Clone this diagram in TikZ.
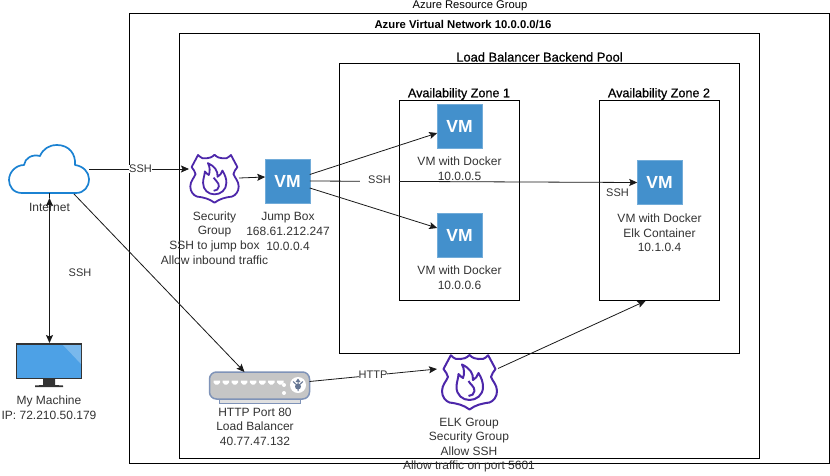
\documentclass[tikz,border=0pt]{standalone}
\usepackage{fontspec}
\setmainfont{Liberation Sans}
\newfontfamily\semib[FakeBold=0.6]{Liberation Sans}
\usetikzlibrary{arrows.meta}
\definecolor{vmblue}{HTML}{4390CC}
\definecolor{shieldv}{HTML}{4D27AA}
\definecolor{cloudb}{HTML}{1B82D2}
\definecolor{txt}{HTML}{333333}
\definecolor{screenb}{HTML}{4DA1E6}
\definecolor{lbedge}{HTML}{7F93B8}
\definecolor{lbfill}{HTML}{C6C6C6}
\tikzset{x=1pt,y=-1pt,
 box/.style={draw=black,line width=1pt,fill=none,anchor=north west,inner sep=0pt,outer sep=0pt},
 lab/.style={font=\fontsize{12}{14.6}\selectfont,text=txt,align=center,inner sep=0pt},
 edgelab/.style={font=\fontsize{11}{14}\selectfont,text=txt,align=center,inner sep=0pt},
 title/.style={text=black,align=center,inner sep=0pt},
 vmbox/.style={fill=vmblue,draw=vmblue!75!white,minimum size=44.5pt,inner sep=0pt,outer sep=0pt,text=white,font=\fontsize{17.5}{17.5}\selectfont\bfseries},
 tipstyle/.style={-{Stealth[length=8pt,width=7pt,inset=1.5pt]}},
 conn/.style={draw=black!90,line width=0.8pt,tipstyle},
 spot/.style={inner sep=0pt,outer sep=0pt},
}
% #1,#2 centre, #3 scale, #4 line width
\newcommand{\shieldat}[4]{%
 \begin{scope}[shift={(#1,#2)},scale=#3,line width=#4,draw=shieldv,line join=round]
 \draw (-18.7,-26.7) .. controls (-15,-23) and (-12,-22) .. (-9,-23) .. controls (-6,-23) and (-3,-24) .. (0,-27)
   .. controls (3,-24) and (6,-23) .. (9,-23) .. controls (12,-22) and (15,-23) .. (18.7,-26.7)
   -- (26,-13) .. controls (24,-10) and (22,-8) .. (21.5,-5) .. controls (23,-1) and (27.5,3) .. (27.5,9)
   .. controls (27.5,15) and (24,19) .. (20,20.5) .. controls (12,21.5) and (6,23) .. (0,27.5)
   .. controls (-6,23) and (-12,21.5) .. (-20,20.5) .. controls (-24,19) and (-27.5,15) .. (-27.5,9)
   .. controls (-27.5,3) and (-23,-1) .. (-21.5,-5) .. controls (-22,-8) and (-24,-10) .. (-26,-13) -- cycle;
 \draw (-7.5,-17.5) .. controls (0,-14) and (4,-9) .. (3.5,-2) .. controls (6,-3) and (8,-6) .. (9,-9)
   .. controls (12,-4) and (13.5,0) .. (13.5,5) .. controls (13.5,13) and (7,18) .. (0,18)
   .. controls (-7,18) and (-13,13) .. (-13,5) .. controls (-13,0) and (-11,-4) .. (-11,-8)
   .. controls (-9.5,-6) and (-8,-5) .. (-6.5,-4) .. controls (-5,-8) and (-5,-13) .. (-7.5,-17.5) -- cycle;
 \draw (-1,-1) .. controls (1,3) and (5,4) .. (5,9) .. controls (5,12) and (2,14) .. (-1,14);
 \end{scope}}
\begin{document}
\begin{tikzpicture}
\useasboundingbox (0,0) rectangle (830,475);
\fill[white] (0,0) rectangle (830,475);
% containers
\node[box,minimum width=700pt,minimum height=450pt] (rg) at (129.5,13.5) {};
\node[box,minimum width=580pt,minimum height=425pt] (vnet) at (179.5,33.5) {};
\node[box,minimum width=400pt,minimum height=290pt] (pool) at (339.5,63.5) {};
\node[box,minimum width=120pt,minimum height=200pt] (az1) at (399.5,100.5) {};
\node[box,minimum width=120pt,minimum height=200pt] (az2) at (599.5,100.5) {};
\node[title,font=\fontsize{11.2}{14}\selectfont] (trg) at (470,6) {Azure Resource Group};
\node[title,font=\fontsize{11.3}{14}\selectfont\bfseries] (tvnet) at (463,25) {Azure Virtual Network 10.0.0.0/16};
\node[title,font=\fontsize{12.9}{14}\semib] (tpool) at (539.5,57) {Load Balancer Backend Pool};
\node[title,font=\fontsize{12.6}{14}\semib] (taz1) at (459,94) {Availability Zone 1};
\node[title,font=\fontsize{12.6}{14}\semib] (taz2) at (659,94) {Availability Zone 2};
% cloud
\draw[draw=cloudb,line width=1.7pt,fill=white,line join=round] (22,193)
  .. controls (13,193) and (9,186) .. (9,180) .. controls (9,172) and (16,165) .. (24,165)
  .. controls (25,158) and (32,154) .. (40,156) .. controls (43,149) and (49,145) .. (57,145)
  .. controls (69,145) and (76,154) .. (75,165) .. controls (83,166) and (89,172) .. (89,179)
  .. controls (89,187) and (84,193) .. (76,193) -- cycle;
\node[spot,minimum width=80pt,minimum height=48pt] (cloud) at (49.5,169) {};
\node[lab] (tcloud) at (49.5,207) {Internet};
% monitor
\fill[black!80] (43,379) -- (55,379) -- (55,385) -- (63,385.5) -- (63,387) -- (35,387) -- (35,385.5) -- (43,385) -- cycle;
\node[spot,fill=black!80,minimum width=66pt,minimum height=36pt,anchor=north] (mon) at (49,343) {};
\fill[screenb] (17,345) rectangle (81,378);
\fill[white,opacity=.25] (63,345) -- (81,345) -- (81,364) -- cycle;
\node[lab] (tmon) at (49,408) {My Machine\\IP: 72.210.50.179};
% shields
\node[spot,minimum width=49pt,minimum height=47pt] (sg) at (214.5,178.5) {};
\shieldat{214.5}{178.5}{0.88}{1.8pt}
\node[lab] (tsg) at (214.5,238) {Security\\Group\\SSH to jump box\\Allow inbound traffic};
\node[spot,minimum width=55pt,minimum height=54pt] (elk) at (469.5,382) {};
\shieldat{469.5}{382}{1}{2pt}
\node[lab] (telk) at (469,445) {ELK Group\\Security Group\\Allow SSH\\Allow traffic on port 5601};
% VMs
\node[vmbox] (jump) at (287.5,181) {VM};
\node[lab,fill=none] (tjump) at (288,231.5) {Jump Box\\168.61.212.247\\10.0.0.4};
\node[vmbox] (vm1) at (459.5,126) {VM};
\node[lab] (tvm1) at (459.5,169) {VM with Docker\\10.0.0.5};
\node[vmbox] (vm2) at (459.5,235) {VM};
\node[lab] (tvm2) at (459.5,278) {VM with Docker\\10.0.0.6};
\node[vmbox] (vm3) at (659.5,182) {VM};
\node[lab] (tvm3) at (659.5,233) {VM with Docker\\Elk Container\\10.1.0.4};
% load balancer
\fill[fill=black!12,draw=lbedge,line width=1pt] (219,397) rectangle (300,403);
\node[spot,draw=lbedge,fill=lbfill,line width=1.5pt,rounded corners=7pt,minimum width=100pt,minimum height=27pt] (lb) at (259.5,385.5) {};
\fill[white] (298,385) circle (8pt);
\fill[lbedge!80!black] (298,386.5) circle (3pt);
\fill[lbedge!80!black] (298,378.5) -- (300.5,382) -- (295.5,382) -- cycle;
\draw[lbedge!80!black,line width=1pt] (298,381) -- (298,391) (298,386) -- (293,381.5) (298,386) -- (303,381.5);
\foreach \i in {0,...,7}{\fill[white] (213.5+9.1*\i,380.5) -- ++(6.5,0) -- ++(0,2) -- ++(-2,2) -- ++(-2.5,0) -- ++(-2,-2) -- cycle;}
\fill[white] (284,385) circle (2pt) (284,393) circle (2pt);
\node[lab] (tlb) at (255,426.5) {HTTP Port 80\\Load Balancer\\40.77.47.132};
% connectors
\coordinate (c1) at (89,169);
\coordinate (c2) at (189,169);
\draw[conn] (c1) -- (c2);
\node[edgelab,fill=white] (lssh1) at (140.5,169) {SSH};
\draw[conn] (sg.east |- 0,178) -- (jump.west |- 0,177);
\draw[conn] (jump.east |- 0,174.5) -- (vm1.west |- 0,133);
\draw[conn] (jump.east |- 0,181) -- (vm3.west |- 0,182.5);
\draw[conn] (jump.east |- 0,188) -- (vm2.west |- 0,228);
\node[edgelab,fill=white,minimum width=39pt,minimum height=12pt] (lssh2) at (379.5,180) {SSH};
\node[edgelab] (lssh3) at (617.5,192.5) {SSH};
\coordinate (cloudtip) at (49.5,198);
\draw[draw=black!90,line width=0.8pt] (cloud.south) -- (cloudtip);
\draw[conn,{Stealth[length=8pt,width=7pt,inset=1.5pt]}-{Stealth[length=8pt,width=7pt,inset=1.5pt]}] (cloudtip) -- (mon.north -| cloudtip);
\node[edgelab] (lssh4) at (80,272.5) {SSH};
\coordinate (c3) at (74,194);
\coordinate (c4) at (244.5,372);
\draw[conn] (c3) -- (c4);
\coordinate (c5) at (437,369);
\draw[conn] (lb.east |- 0,381.5) -- (c5);
\node[edgelab,fill=white] (lhttp) at (373,375) {HTTP};
\coordinate (c6) at (498,368.5);
\coordinate (c7) at (645.5,301);
\draw[conn] (c6) -- (c7);
\end{tikzpicture}
\end{document}
